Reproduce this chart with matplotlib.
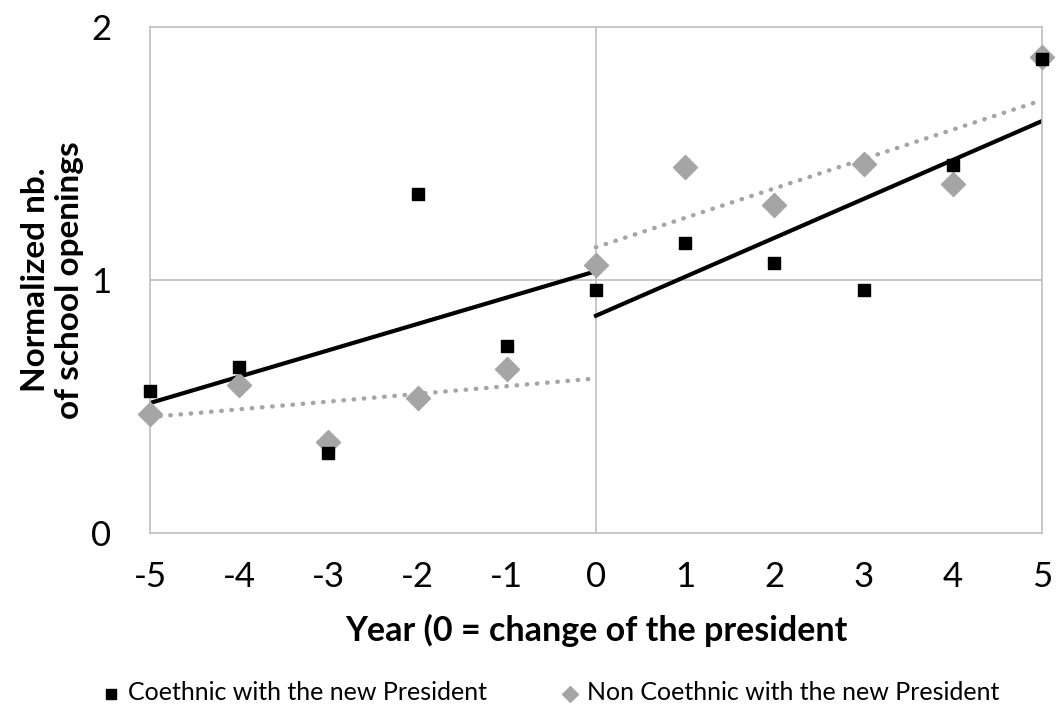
import numpy as np
import matplotlib.pyplot as plt

years = [-5, -4, -3, -2, -1, 0, 1, 2, 3, 4, 5]
coethnic = [0.56, 0.656, 0.316, 1.34, 0.739, 0.96, 1.146, 1.067, 0.96, 1.455, 1.873]
non_coethnic = [0.47, 0.585, 0.36, 0.534, 0.648, 1.059, 1.447, 1.296, 1.458, 1.379, 1.881]

plt.rcParams['font.family'] = ['Lato', 'DejaVu Sans']
plt.rcParams['axes.unicode_minus'] = False
grey = '#a5a5a5'
axis_grey = '#bfbfbf'

fig = plt.figure(figsize=(10.56, 7.07), dpi=100)
ax = fig.add_axes([0.142, 0.2461, 0.8447, 0.7157])

x = np.array(years)

# trend lines: before (fit on -5..-1, extended to 0) and after (fit on 0..5)
def trend(y, color, style):
    y = np.array(y)
    pre = x < 0
    post = x >= 0
    b = np.polyfit(x[pre], y[pre], 1)
    xs = np.array([-5, 0])
    ax.plot(xs, np.polyval(b, xs), color=color, ls=style, lw=3.0 if style == '-' else 3.2,
            dash_capstyle='round', zorder=2)
    b = np.polyfit(x[post], y[post], 1)
    xs = np.array([0, 5])
    ax.plot(xs, np.polyval(b, xs), color=color, ls=style, lw=3.0 if style == '-' else 3.2,
            dash_capstyle='round', zorder=2)

trend(coethnic, 'black', '-')
trend(non_coethnic, grey, (0, (0.1, 2.2)))

ax.scatter(years, non_coethnic, marker='D', s=150, color=grey, zorder=3, clip_on=False,
           label='Non Coethnic with the new President')
ax.scatter(years, coethnic, marker='s', s=75, color='black', zorder=4, clip_on=False,
           label='Coethnic with the new President')

ax.set_xlim(-5, 5)
ax.set_ylim(0, 2)
ax.set_xticks(range(-5, 6))
ax.set_yticks([0, 1, 2])
ax.axhline(1, color=axis_grey, lw=1.2, zorder=1)
ax.axvline(0, color=axis_grey, lw=1.2, zorder=1)
for s in ax.spines.values():
    s.set_color(axis_grey)
    s.set_linewidth(1.2)
ax.tick_params(length=0, labelsize=25, pad=20)
ax.tick_params(axis='y', pad=28)

ax.set_xlabel('Year (0 = change of the president', fontsize=24.5, fontweight='bold', labelpad=15)
ax.set_ylabel('Normalized nb.\nof school openings', fontsize=24, fontweight='bold', labelpad=5)

h, l = ax.get_legend_handles_labels()
leg = fig.legend(h[::-1], l[::-1], loc='lower center', bbox_to_anchor=(0.521, -0.028), ncol=2,
                 frameon=False, fontsize=18, handletextpad=0.3, columnspacing=2.9,
                 handlelength=0.8)
leg.legend_handles[0].set_sizes([50])
leg.legend_handles[1].set_sizes([65])

fig.savefig('out.png', dpi=100)
